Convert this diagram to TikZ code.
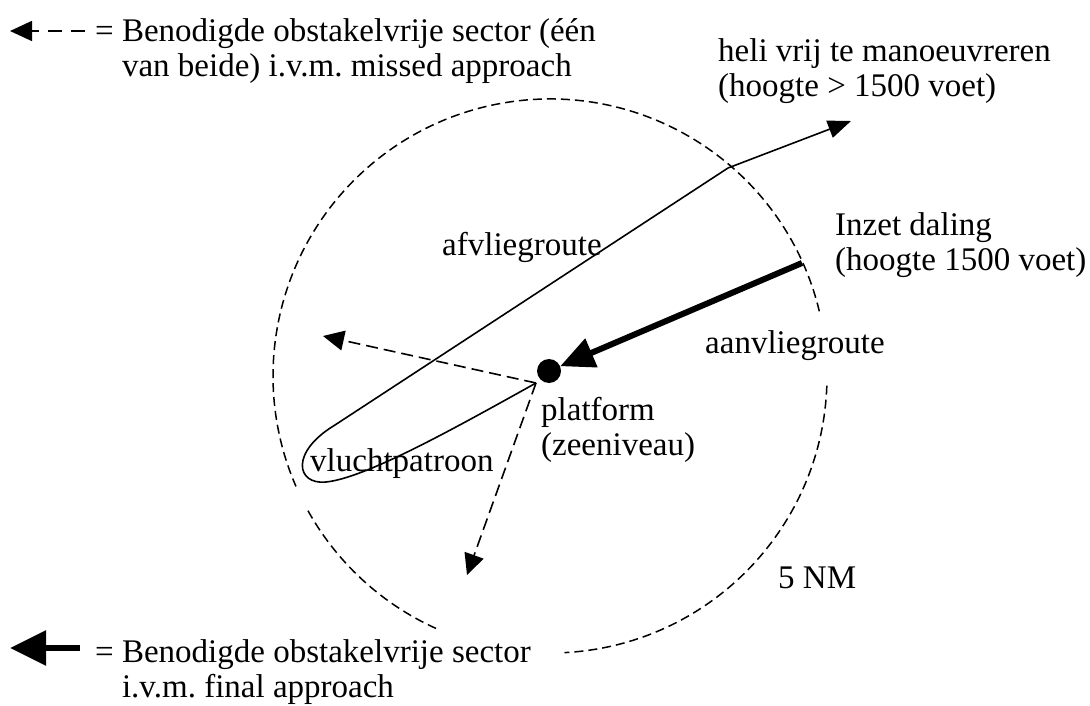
\documentclass[tikz,border=0pt]{standalone}
\usepackage{fontspec}
\setmainfont{Liberation Serif}
\usetikzlibrary{arrows.meta}
\frenchspacing
\begin{document}
\begin{tikzpicture}[x=1pt,y=-1pt,
  lbl/.style={anchor=base west, inner sep=0pt, align=left, font=\fontsize{33}{35}\selectfont},
  ring/.style={line width=1.5pt, dash pattern=on 9pt off 5pt},
  route/.style={line width=1.6pt},
  missed/.style={line width=1.6pt, dash pattern=on 12pt off 6pt, -{Triangle[length=21pt,width=20pt]}},
  final/.style={line width=6pt, -{Triangle[length=34pt,width=30pt]}},
  helitip/.style={-{Triangle[length=23pt,width=18pt]}},
]
\useasboundingbox (0,0) rectangle (1090,706);
% 5 NM circle (in three arcs)
\coordinate (C) at (550,376);
\draw[ring] ([shift={(-13.5:277)}]C) arc[start angle=-13.5, end angle=-203.5, radius=277];
\draw[ring] ([shift={(2:277)}]C) arc[start angle=2, end angle=87, radius=277];
\draw[ring] ([shift={(114.3:277)}]C) arc[start angle=114.3, end angle=151.4, radius=277];
% platform
\node[circle, fill, inner sep=0pt, minimum size=24pt] (platform) at (549,371) {};
\coordinate (P) at (536,383);
\coordinate (inzet) at (802,263);
\coordinate (bend) at (728,168);
\coordinate (heli) at (851,121);
\coordinate (miss1) at (323,336);
\coordinate (miss2) at (467,575);
% approach
\draw[final] (inzet) -- (platform);
% flight pattern and departure
\draw[route] (P) .. controls (450,431) and (365,478) .. (326,482)
  .. controls (296,485) and (290,452) .. (335,425) -- (bend);
\draw[route, helitip] (bend) -- (heli);
% missed approach sectors
\draw[missed] (P) -- (miss1);
\draw[missed] (P) -- (miss2);
% labels
\node[lbl] (lheli) at (718,97) {heli vrij te manoeuvreren\\(hoogte > 1500 voet)};
\node[lbl] (linzet) at (835,270) {Inzet daling\\(hoogte 1500 voet)};
\node[lbl] (lafv) at (442,255) {afvliegroute};
\node[lbl] (laanv) at (705,353) {aanvliegroute};
\node[lbl] (lplat) at (541,455) {platform\\(zeeniveau)};
\node[lbl] (lvlucht) at (310,471) {vluchtpatroon};
\node[lbl] (lnm) at (778,588) {5 NM};
% legend
\coordinate (k1a) at (85,31);
\coordinate (k1b) at (10,31);
\draw[line width=1.6pt, dash pattern=on 14pt off 9pt, -{Triangle[length=22pt,width=20pt]}] (k1a) -- (k1b);
\node[lbl] (leg1) at (95,77) {= Benodigde obstakelvrije sector (één\\\hphantom{= }van beide) i.v.m. missed approach};
\coordinate (k2a) at (80,648);
\coordinate (k2b) at (10,648);
\draw[line width=6pt, -{Triangle[length=36pt,width=34pt]}] (k2a) -- (k2b);
\node[lbl] (leg2) at (95,697) {= Benodigde obstakelvrije sector\\\hphantom{= }i.v.m. final approach};
\end{tikzpicture}
\end{document}
